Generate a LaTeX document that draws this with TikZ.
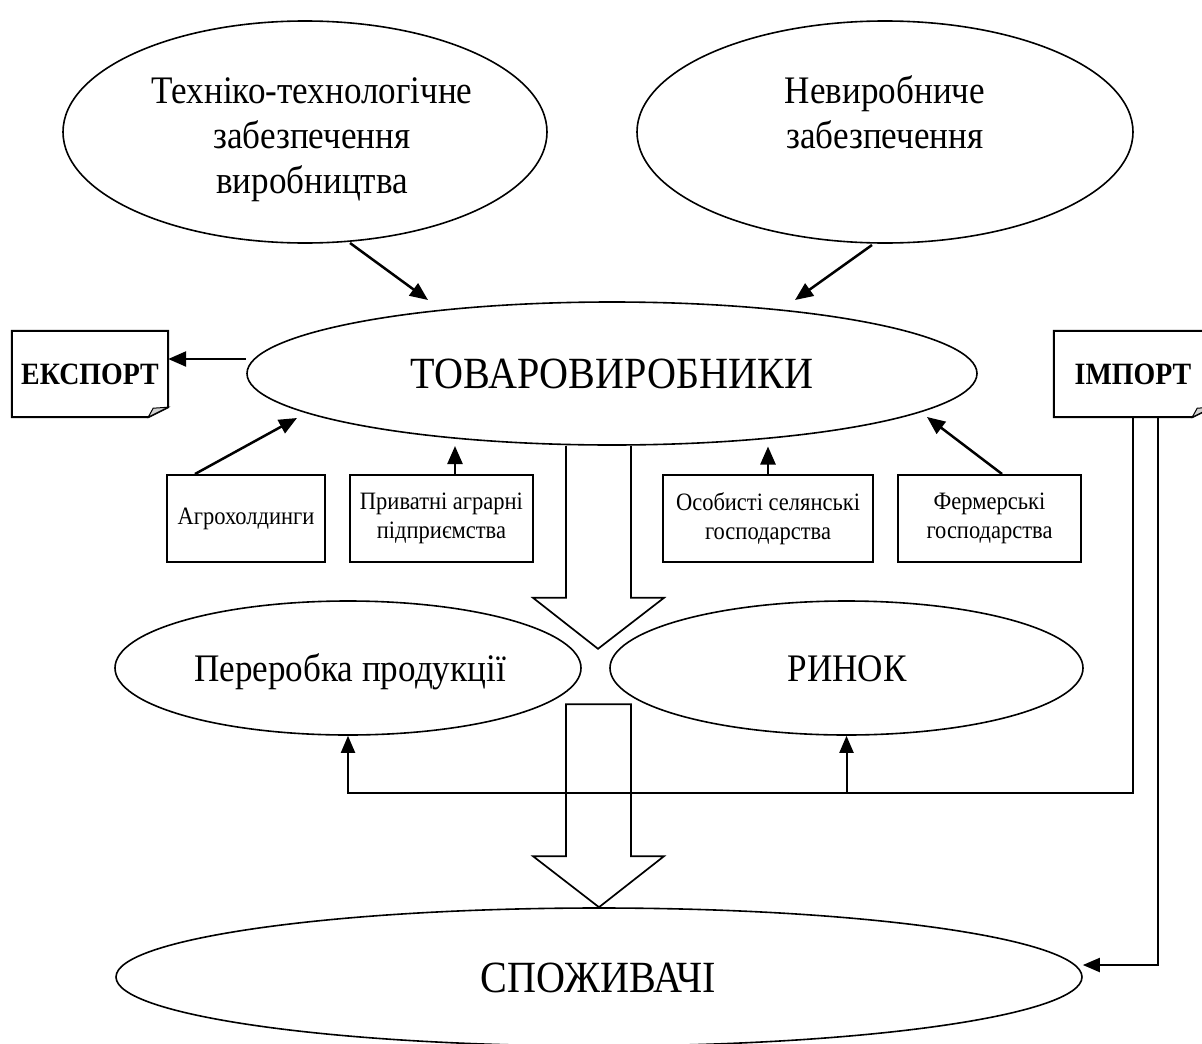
\documentclass[tikz,border=0pt]{standalone}
\usepackage{fontspec}
\setmainfont{Liberation Serif}[FakeStretch=0.9]
\usetikzlibrary{arrows.meta,shapes.geometric,calc}
\begin{document}
\begin{tikzpicture}[x=1pt,y=-1pt,
  ell/.style={draw,ellipse,line width=1.6pt,inner sep=0pt},
  box/.style={draw,rectangle,line width=2pt,inner sep=0pt,align=center,font=\fontsize{25}{29}\selectfont},
  doc/.style={inner sep=0pt,font=\bfseries\fontsize{31}{36}\selectfont},
  bigtxt/.style={anchor=base,font=\fontsize{39}{45}\selectfont},
  hugetxt/.style={anchor=base,font=\fontsize{44.6}{51}\selectfont},
  arr/.style={line width=2.5pt,-{Triangle[length=18pt,width=15pt]}},
  arrsm/.style={line width=2pt,-{Triangle[length=17pt,width=14pt]}},
  conn/.style={line width=2pt},
  bigarr/.style={line width=1.7pt,line join=miter}]
\useasboundingbox (0,0) rectangle (1202,1044);
\clip (0,0) rectangle (1202,1044);

% ellipses
\node[ell, minimum width=484pt, minimum height=222pt] (tech) at (305,132) {};
\node[ell, minimum width=496pt, minimum height=222pt] (nev) at (885,132) {};
\node[ell, minimum width=730pt, minimum height=143pt] (tov) at (612,373.5) {};
\node[ell, minimum width=466pt, minimum height=134pt] (per) at (348,668) {};
\node[ell, minimum width=473pt, minimum height=134pt] (rin) at (846.5,668) {};
\node[ell, minimum width=966pt, minimum height=138pt] (spo) at (599,977) {};

% ellipse texts
\node[bigtxt] (t1) at (312,103) {Техніко-технологічне};
\node[bigtxt] (t2) at (312,148) {забезпечення};
\node[bigtxt] (t3) at (312,193) {виробництва};
\node[bigtxt] (n1) at (885,103) {Невиробниче};
\node[bigtxt] (n2) at (885,148) {забезпечення};
\node[hugetxt] (tovt) at (612,388) {ТОВАРОВИРОБНИКИ};
\node[bigtxt] (pert) at (350,681) {Переробка продукції};
\node[bigtxt] (rint) at (847,681) {РИНОК};
\node[hugetxt] (spot) at (598,992) {СПОЖИВАЧІ};

% export / import documents
\node[doc, minimum width=156pt, minimum height=86pt] (exp) at (90,374) {ЕКСПОРТ};
\node[doc, minimum width=158pt, minimum height=86pt] (imp) at (1133,374) {ІМПОРТ};
\foreach \d in {exp,imp}{
  \draw[line width=2pt,line join=miter] (\d.north west) -- (\d.north east) -- ($(\d.south east)+(0,-10)$)
     -- ($(\d.south east)+(-20,0)$) -- (\d.south west) -- cycle;
  \draw[line width=1pt,fill=gray!35] ($(\d.south east)+(-20,0)$) -- ($(\d.south east)+(-15,-9)$)
     -- ($(\d.south east)+(0,-10)$) -- cycle;
}

% small boxes
\node[box, minimum width=158pt, minimum height=87pt] (agro) at (246,518.5) {Агрохолдинги};
\node[box, minimum width=183pt, minimum height=87pt] (priv) at (441.5,518.5) {Приватні аграрні\\підприємства};
\node[box, minimum width=210pt, minimum height=87pt] (osob) at (768,518.5) {Особисті селянські\\господарства};
\node[box, minimum width=183pt, minimum height=87pt] (ferm) at (989.5,518.5) {Фермерські\\господарства};

% arrows to / from ТОВАРОВИРОБНИКИ
\draw[arr] ($(tech.center)+(45,111)$) -- ($(tov.center)+(-184,-73.5)$);
\draw[arr] ($(nev.center)+(-13,113)$) -- ($(tov.center)+(183,-73.5)$);
\draw[arr] ($(tov.west)+(0,-14.5)$) -- ($(exp.east)+(0,-15)$);
\draw[arr] ($(agro.north)+(-51,0)$) -- ($(tov.center)+(-315,44.5)$);
\draw[arr] ($(priv.north)+(13.5,0)$) -- ($(tov.center)+(-157,72.5)$);
\draw[arr] (osob.north) -- ($(tov.center)+(156,73)$);
\draw[arr] ($(ferm.north)+(12.5,0)$) -- ($(tov.center)+(315,43.5)$);

% big hollow arrows
\draw[bigarr] ($(tov.south)+(-46,0)$) -- ++(0,152) -- ++(-33,0) -- ++(65,51) -- ++(66,-51) -- ++(-33,0) -- ++(0,-152);
\draw[bigarr] (spo.north) -- ++(-66,-51) -- ++(33,0) -- ++(0,-152) -- ++(65,0) -- ++(0,152) -- ++(33,0) -- cycle;

% import lines
\draw[arrsm] (imp.south) |- ($(per.south)+(0,57)$) -- (per.south);
\draw[arrsm] ($(rin.south)+(0,57)$) -- (rin.south);
\draw[arrsm] ($(imp.south)+(25,0)$) |- ($(spo.east)+(0,-12)$);
\end{tikzpicture}
\end{document}
